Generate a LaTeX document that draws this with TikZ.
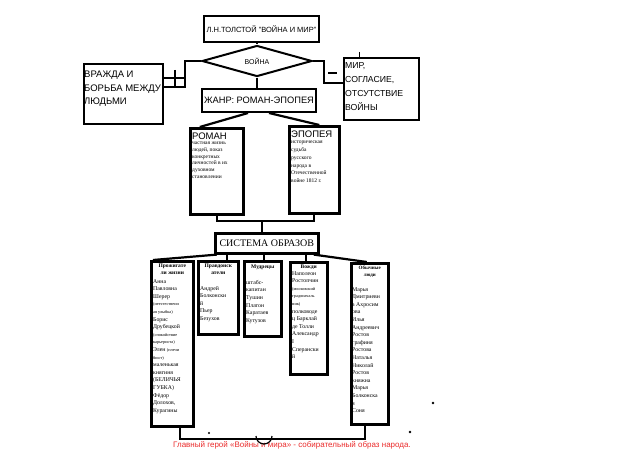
\documentclass[tikz,border=0pt]{standalone}
\usepackage{fontspec}
\setmainfont{Liberation Serif}
\setsansfont{Liberation Sans}
\usetikzlibrary{positioning,shapes.geometric}
\definecolor{heroRed}{RGB}{235,45,45}

\tikzset{
  box/.style={draw, line width=2pt, inner sep=0pt, anchor=north west},
  lbox/.style={box, line width=2.6pt},
  wire/.style={line width=2.2pt},
  caps/.style={font=\sffamily\fontsize{9.5}{13.5}\selectfont, align=left, inner sep=0pt, anchor=north west},
  hdr/.style={font=\rmfamily\bfseries\fontsize{5.5}{7.6}\selectfont, align=center, inner sep=0pt},
  body/.style={font=\rmfamily\fontsize{5.8}{7.6}\selectfont, align=left, inner sep=0pt, anchor=north west},
}
\newcommand{\smalltxt}[1]{{\fontsize{4.3}{7.6}\selectfont #1}}

\begin{document}
\begin{tikzpicture}[x=1pt,y=-1pt]
\useasboundingbox[fill=white] (0,0) rectangle (640,452);

% top of the scheme
\node[box, minimum width=115pt, minimum height=26pt, font=\sffamily\fontsize{7.5}{9}\selectfont] (title) at (203,15) {Л.Н.ТОЛСТОЙ "ВОЙНА И МИР"};
\node[draw, diamond, line width=2pt, inner sep=0pt, minimum width=110pt, minimum height=24pt, font=\sffamily\fontsize{7}{8}\selectfont] (dia) at (257,61) {ВОЙНА};
\node[box, minimum width=79pt, minimum height=60pt] (vr) at (83,63) {};
\node[caps] (vrtxt) at (84,71) {ВРАЖДА И\\БОРЬБА МЕЖДУ\\ЛЮДЬМИ};
\node[box, minimum width=75pt, minimum height=62pt] (mir) at (343,57) {};
\node[caps, font=\sffamily\fontsize{8.7}{14}\selectfont] (mirtxt) at (345,62) {МИР,\\СОГЛАСИЕ,\\ОТСУТСТВИЕ\\ВОЙНЫ};
\node[box, minimum width=114pt, minimum height=23pt, font=\sffamily\fontsize{9.3}{11}\selectfont] (genre) at (201,88) {ЖАНР: РОМАН-ЭПОПЕЯ};

% roman and epopee
\node[lbox, minimum width=53pt, minimum height=86pt] (roman) at (189,127) {};
\node[caps] (romhdr) at (192,133) {РОМАН};
\node[body, font=\rmfamily\fontsize{5.5}{6.7}\selectfont] (romtxt) at (192,142) {частная жизнь\\людей, показ\\конкретных\\личностей в их\\духовном\\становлении};
\node[lbox, minimum width=50pt, minimum height=87pt] (epo) at (288,125) {};
\node[caps] (epohdr) at (291,131) {ЭПОПЕЯ};
\node[body, font=\rmfamily\fontsize{5.5}{7.8}\selectfont] (epotxt) at (291,141) {историческая\\судьба\\русского\\народа в\\Отечественной\\войне 1812 г.};

\node[lbox, minimum width=103pt, minimum height=20pt, font=\rmfamily\fontsize{10}{12}\selectfont] (sys) at (214,232) {СИСТЕМА ОБРАЗОВ};

% groups of characters
\node[lbox, minimum width=42pt, minimum height=165pt] (proz) at (150,260) {};
\node[hdr, below=3.5pt of proz.north] (prozhdr) {Прожигате\\ли жизни};
\node[body] (proztxt) at (153,279) {Анна\\Павловна\\Шерер\\\smalltxt{(неестественн}\\\smalltxt{ая улыбка)}\\Борис\\Друбецкой\\\smalltxt{(спокойствие}\\\smalltxt{карьериста)}\\Элен \smalltxt{(плечи}\\\smalltxt{бюст)}\\маленькая\\княгиня\\(БЕЛИЧЬЯ\\ГУБКА)\\Фёдор\\Долохов,\\Курагины};

\node[lbox, minimum width=40pt, minimum height=73pt] (prav) at (197,260) {};
\node[hdr, below=3.5pt of prav.north] (pravhdr) {Правдоиск\\атели};
\node[body] (pravtxt) at (200,286) {Андрей\\Болконски\\й\\Пьер\\Безухов};

\node[lbox, minimum width=37pt, minimum height=75pt] (mud) at (243,260) {};
\node[hdr, below=4.5pt of mud.north] (mudhdr) {Мудрецы};
\node[body] (mudtxt) at (246,280) {штабс-\\капитан\\Тушин\\Платон\\Каратаев\\Кутузов};

\node[lbox, minimum width=37pt, minimum height=112pt] (vozhd) at (289,261) {};
\node[hdr, below=3.5pt of vozhd.north] (vozhdhdr) {Вожди};
\node[body] (vozhdtxt) at (292,271) {Наполеон\\Ростопчин\\\smalltxt{(московский}\\\smalltxt{градоначаль}\\\smalltxt{ник)}\\полководе\\ц Барклай\\де Толли\\Александр\\I\\Сперански\\й};

\node[lbox, minimum width=37pt, minimum height=161pt] (obych) at (350,262) {};
\node[hdr, below=3.5pt of obych.north, font=\rmfamily\bfseries\fontsize{5}{7.6}\selectfont] (obychhdr) {Обычные\\люди};
\node[body] (obychtxt) at (352,287) {Марья\\Дмитриевн\\а Ахросим\\ова\\Илья\\Андреевич\\Ростов\\графиня\\Ростова\\Наталья\\Николай\\Ростов\\княжна\\Марья\\Болконска\\я\\Соня};

\node[font=\sffamily\fontsize{8}{9}\selectfont, text=heroRed] (hero) at (292,445) {Главный герой «Войны и мира» - собирательный образ народа.};

% connectors
\draw[wire] (dia.north |- title.south) -- (dia.north);
\coordinate (lk) at (185,87);
\draw[wire] (dia.west) -| (lk) -- (lk -| vr.east);
\draw[wire] (164,78) -- (185,78);
\draw[wire] (175,70) -- (175,86);
\coordinate (rk) at (324,83);
\draw[wire] (dia.east) -| (rk) -- (rk -| mir.west);
\draw[wire] (328,73) -- (337,73);
\draw[line width=1pt] (359,52) -- (359,57);
\draw[wire] (dia.south) -- (dia.south |- genre.north);
\draw[wire] ([xshift=-11pt]genre.south) -- ([xshift=-17pt]roman.north);
\draw[wire] ([xshift=10pt]genre.south) -- ([xshift=5pt]epo.north);
\coordinate (rj) at (262,221);
\draw[wire] (roman.south) |- (rj) -| (epo.south);
\draw[wire] (rj) -- (rj |- sys.north);
\draw[wire] ([xshift=-50pt]sys.south) -- ([xshift=3pt]proz.north west);
\draw[wire] ([xshift=9pt]prav.north |- sys.south) -- ([xshift=9pt]prav.north);
\draw[wire] ([xshift=1.5pt]mud.north |- sys.south) -- ([xshift=1.5pt]mud.north);
\draw[wire] ([xshift=-2.5pt]vozhd.north |- sys.south) -- ([xshift=-2.5pt]vozhd.north);
\draw[wire] ([xshift=47pt]sys.south) -- ([xshift=-3pt]obych.north);
\draw[wire] ([xshift=8pt]proz.south) -- ++(0,11) -| ([xshift=-5pt]obych.south);
\draw[line width=1.2pt] (256,436) arc[start angle=180, end angle=0, radius=8];

% stray dots
\fill (209,433) circle (1.2);
\fill (433,403) circle (1.3);
\fill (410,432) circle (1.3);
\end{tikzpicture}
\end{document}
